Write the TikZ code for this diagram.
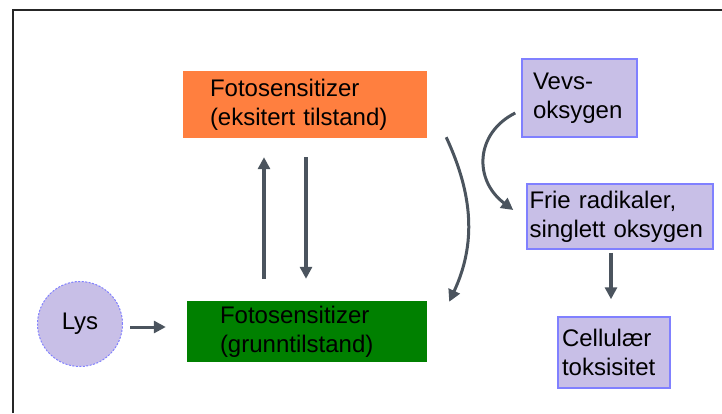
\documentclass[tikz,border=0pt]{standalone}
\usepackage{fontspec}
\setmainfont{Liberation Sans}
\usetikzlibrary{arrows.meta}
\definecolor{exccol}{RGB}{255,127,63}
\definecolor{grdcol}{RGB}{0,128,0}
\definecolor{lavcol}{RGB}{200,191,231}
\definecolor{lavline}{RGB}{128,128,255}
\definecolor{arrcol}{RGB}{75,84,94}
\tikzset{
    base/.style={rectangle, align=left, inner ysep=0pt, font=\fontsize{24}{29}\selectfont},
    lav/.style={base, fill=lavcol, draw=lavline, line width=1.5pt},
    arrow/.style={draw=arrcol, line width=3.5pt, -{Triangle[length=12pt, width=12pt]}}
}

\begin{document}
\begin{tikzpicture}[x=1pt, y=-1pt]
\useasboundingbox (0,0) rectangle (722,413);
\draw[line width=2pt, black!85] (12.5,413) -- (12.5,10) -- (722,10);

\node[base, fill=exccol, text width=190pt, inner xsep=27pt, minimum height=67pt] (exc) at (305,104.5) {Fotosensitizer\\(eksitert tilstand)};
\node[base, fill=grdcol, text width=174pt, inner xsep=33pt, minimum height=61pt] (grd) at (307,331.5) {Fotosensitizer\\(grunntilstand)};
\node[circle, fill=lavcol, draw=lavline, line width=1pt, dash pattern=on 2pt off 1.5pt, minimum size=85pt, inner sep=0pt, font=\fontsize{24}{29}\selectfont] (lys) at (80,324) {Lys};
\node[lav, text width=93pt, inner xsep=11pt, minimum height=78pt] (vevs) at (579.5,98) {Vevs-\\oksygen};
\node[lav, text width=181pt, inner xsep=2.5pt, minimum height=65pt] (frie) at (620,216.5) {Frie radikaler,\\singlett oksygen};
\node[lav, text width=104pt, inner xsep=4pt, minimum height=71pt] (cell) at (614,352.5) {Cellulær\\toksisitet};

\draw[arrow, line width=3pt, shorten <=7pt, shorten >=21pt] ([yshift=-3pt]lys.east) -- ([yshift=-3pt]lys.east -| grd.west);
\draw[arrow, shorten <=22pt, shorten >=19pt] ([xshift=-43pt]grd.north) -- ([xshift=-43pt]grd.north |- exc.south);
\draw[arrow, shorten <=19pt, shorten >=22pt] ([xshift=-1pt]grd.north |- exc.south) -- ([xshift=-1pt]grd.north);
\draw[arrow, line width=3pt] ([shift={(19,-1)}]exc.south east) .. controls +(27,58) and +(27,-58) .. ([shift={(22,1)}]grd.north east);
\draw[arrow, line width=3pt] ([shift={(-6,15)}]vevs.west) .. controls +(-40,20) and +(-40,-30) .. ([shift={(-13,-6.5)}]frie.west);
\draw[arrow, shorten <=3pt, shorten >=17pt] ([xshift=-9pt]frie.south) -- ([xshift=-9pt]frie.south |- cell.north);
\end{tikzpicture}
\end{document}
